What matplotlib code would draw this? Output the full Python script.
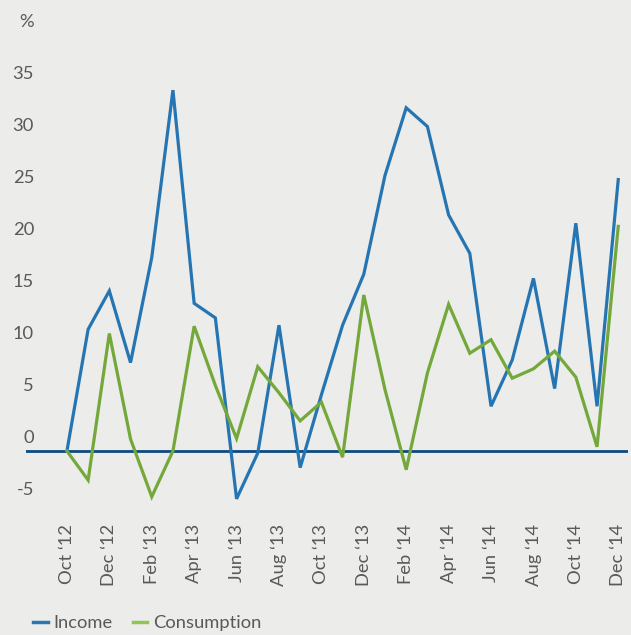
import matplotlib
matplotlib.use("Agg")
import matplotlib.pyplot as plt
import matplotlib.transforms as mtransforms
from matplotlib.lines import Line2D

# monthly, Oct '12 .. Dec '14
months = ["Oct ‘12", "Nov ‘12", "Dec ‘12", "Jan ‘13", "Feb ‘13", "Mar ‘13", "Apr ‘13",
          "May ‘13", "Jun ‘13", "Jul ‘13", "Aug ‘13", "Sep ‘13", "Oct ‘13", "Nov ‘13",
          "Dec ‘13", "Jan ‘14", "Feb ‘14", "Mar ‘14", "Apr ‘14", "May ‘14", "Jun ‘14",
          "Jul ‘14", "Aug ‘14", "Sep ‘14", "Oct ‘14", "Nov ‘14", "Dec ‘14"]
income = [0.0, 11.7, 15.4, 8.5, 18.6, 34.7, 14.2, 12.8, -4.6, -0.2, 12.1, -1.6, 5.4, 12.1,
          17.0, 26.5, 33.0, 31.2, 22.7, 19.0, 4.3, 8.75, 16.6, 6.0, 21.9, 4.3, 26.1]
consumption = [0.0, -2.8, 11.3, 1.15, -4.4, 0.0, 12.0, 6.3, 1.2, 8.1, 5.6, 2.9, 4.7, -0.6,
               15.0, 5.9, -1.8, 7.5, 14.1, 9.4, 10.7, 7.0, 7.9, 9.6, 7.1, 0.4, 21.6]
ytick_vals = [-5, 0, 5, 10, 15, 20, 25, 30, 35]

plt.rcParams['font.family'] = ['Lato', 'DejaVu Sans']
bg = '#ececea'
txt = '#595959'
blue = '#2675b3'
green = '#74a83b'
fs = 13.2

fig = plt.figure(figsize=(6.31, 6.35), dpi=100, facecolor=bg)
W, H = 631, 635
ax = fig.add_axes([26 / W, 1 - 520 / H, (628 - 26) / W, (520 - 10) / H])
ax.set_facecolor(bg)

x = list(range(len(months)))
ax.plot(x, income, color=blue, lw=2.3, solid_joinstyle='miter')
ax.plot(x, consumption, color=green, lw=2.3, solid_joinstyle='miter')
ax.axhline(0, color='#0c4a7f', lw=2.0, zorder=1)

ax.set_xlim(-1.93, 26.46)
ax.set_ylim((451 - 520) / 10.4, (451 - 10) / 10.4)

for s in ax.spines.values():
    s.set_visible(False)
ax.set_yticks([])
ax.set_xticks(x[::2])
ax.set_xticklabels(months[::2], rotation=90, fontsize=fs, color=txt, va='top', ha='center')
ax.tick_params(axis='x', length=0, pad=3)

# y labels sit a little above their values, as in the source
off = mtransforms.ScaledTranslation(0, 13 / 100, fig.dpi_scale_trans)
ytr = ax.get_yaxis_transform() + off
xl = (34 - 26) / (628 - 26)
for v in ytick_vals:
    ax.text(xl, v, str(v), transform=ytr, ha='right', va='center', fontsize=fs, color=txt)
ax.text(xl, 40, '%', transform=ytr, ha='right', va='center', fontsize=fs, color=txt)

handles = [Line2D([], [], color='#2c77b1', lw=2.5),
           Line2D([], [], color='#8fc653', lw=2.5)]
fig.legend(handles, ['Income', 'Consumption'], loc='center left',
           bbox_to_anchor=(33 / W, 1 - 623 / H), ncol=2, frameon=False,
           fontsize=fs, labelcolor=txt, handlelength=0.8, handletextpad=0.3,
           columnspacing=1.1, borderpad=0, borderaxespad=0)

fig.savefig('out.png', dpi=100, facecolor=bg)
